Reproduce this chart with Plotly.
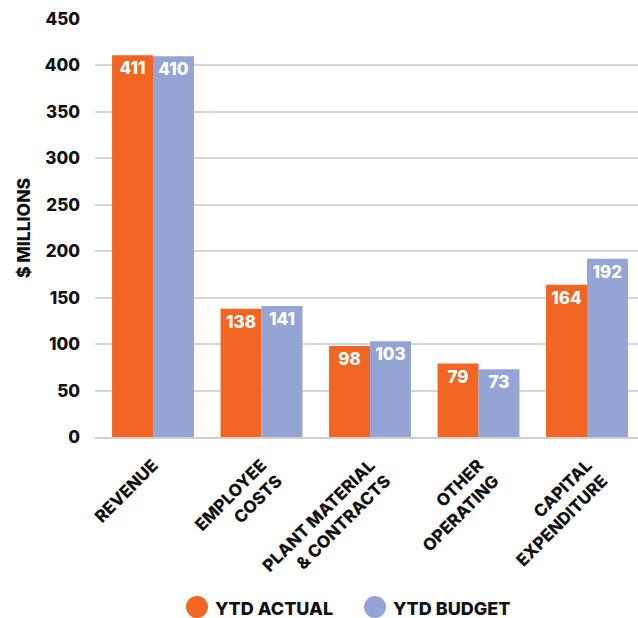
import plotly.graph_objects as go

categories = ["REVENUE", "EMPLOYEE<br>COSTS", "PLANT MATERIAL<br>& CONTRACTS", "OTHER<br>OPERATING", "CAPITAL<br>EXPENDITURE"]
ytd_actual = [411, 138, 98, 79, 164]
ytd_budget = [410, 141, 103, 73, 192]
y_ticks = [0, 50, 100, 150, 200, 250, 300, 350, 400, 450]
series_names = ["YTD ACTUAL", "YTD BUDGET"]

ORANGE = "#F26522"
BLUE = "#94A4D4"
FONT = "Inter"
DARK = "#111111"

fig = go.Figure()
for vals, col, nm in [(ytd_actual, ORANGE, series_names[0]), (ytd_budget, BLUE, series_names[1])]:
    fig.add_trace(go.Bar(x=categories, y=vals, marker_color=col, name=nm, showlegend=False,
                         marker_line_width=0,
                         text=vals, textposition="inside", insidetextanchor="end",
                         textfont=dict(color="white", size=17, family=FONT, weight=800),
                         textangle=0))

# Manual legend (large circles)
W0, W = 95, 543
T0, H = 19, 418
def px(x):
    return (x - W0) / W
def py(y):
    return (T0 + H - y) / H

legend_items = [(197, 213, ORANGE, series_names[0]), (375, 391, BLUE, series_names[1])]
for cx, tx, col, nm in legend_items:
    fig.add_shape(type="circle", xref="paper", yref="paper", xsizemode="pixel", ysizemode="pixel",
                  xanchor=px(cx), yanchor=py(607), x0=-11, x1=11, y0=-11, y1=11,
                  fillcolor=col, line_width=0)
    fig.add_annotation(xref="paper", yref="paper", x=px(tx), y=py(608), xanchor="left", yanchor="middle",
                       text=nm, showarrow=False,
                       font=dict(size=18, family=FONT, weight=800, color=DARK))

fig.update_layout(
    width=638, height=618,
    margin=dict(l=W0, r=0, t=T0, b=618 - T0 - H),
    plot_bgcolor="white", paper_bgcolor="white",
    barmode="group", bargap=0.245, bargroupgap=0,
    font=dict(family=FONT, color=DARK),
    uniformtext=dict(mode="show", minsize=10),
    showlegend=False,
    xaxis=dict(tickangle=-45, tickfont=dict(size=17, family=FONT, weight=800, color=DARK),
               range=[-0.535, 4.47], ticklabelstandoff=10,
               showline=True, linecolor="#cfcfcf", linewidth=1.5, ticks=""),
    yaxis=dict(range=[0, 450], tickvals=y_ticks, showgrid=True, gridcolor="#d6d6d6", gridwidth=1.5,
               zeroline=False, tickfont=dict(size=17, family=FONT, weight=800, color=DARK),
               ticklabelstandoff=14,
               title=dict(text="$ MILLIONS", font=dict(size=17.5, family=FONT, weight=800, color=DARK),
                          standoff=9)),
)

fig.write_html("out.html")
